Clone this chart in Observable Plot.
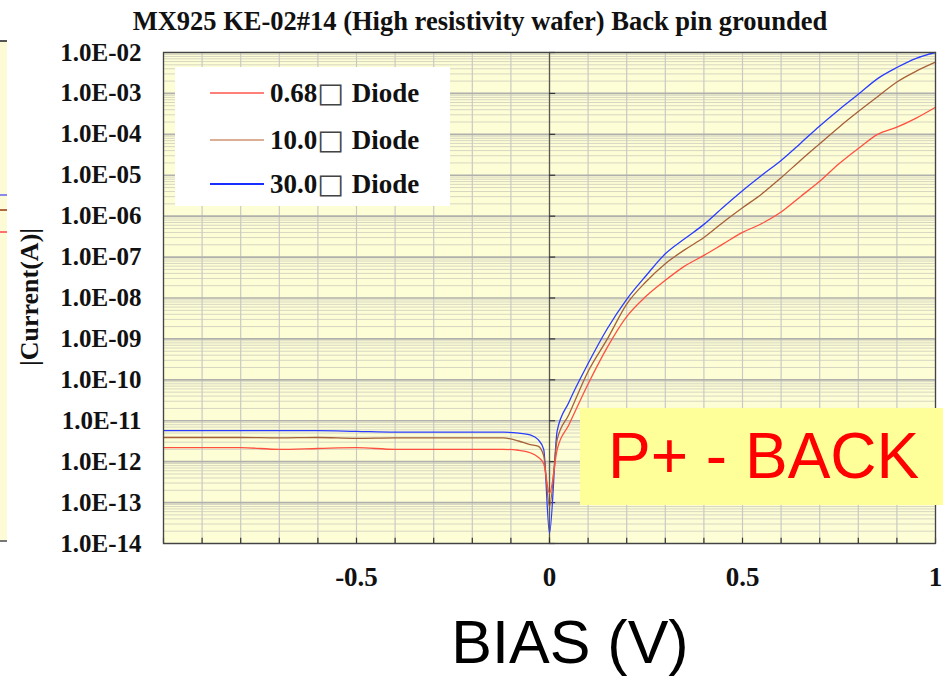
<!DOCTYPE html>
<html>
<head>
<meta charset="utf-8">
<script src="https://cdn.jsdelivr.net/npm/d3@7"></script>
<script src="https://cdn.jsdelivr.net/npm/@observablehq/plot@0.6"></script>
<style>
  html, body { margin: 0; padding: 0; background: #fff; }
  #wrap { position: relative; width: 943px; height: 690px; overflow: hidden; }
  #chart { position: absolute; left: 0; top: 0; }
  .serif { font-family: "Liberation Serif", "DejaVu Serif", serif; font-weight: bold; color: #111; }
  #title { position: absolute; left: 480px; top: 6px; transform: translateX(-50%); white-space: nowrap; font-size: 26.5px; }
  #ylabel { position: absolute; left: 30px; top: 297px; transform: translate(-50%, -50%) rotate(-90deg); white-space: nowrap; font-size: 26px; }
  #legend { position: absolute; left: 175px; top: 67px; width: 275px; height: 139px; background: #fff; }
  .lrow { position: absolute; left: 0; height: 30px; width: 275px; }
  .lline { position: absolute; left: 35px; width: 54px; top: 14px; height: 2px; }
  .ltext { position: absolute; left: 95px; top: 0; line-height: 30px; font-size: 27px; white-space: nowrap; }
  .ltext .sq { display: inline-block; font-family: "DejaVu Sans", sans-serif; font-weight: normal; font-size: 27px; color: #444; margin: 0 8px 0 1px; transform: scaleX(1.05); }
  #pback { position: absolute; left: 580px; top: 408px; width: 363px; height: 97px; background: #ffff99; }
  #pback span { position: absolute; left: 28px; top: 0; line-height: 97px; font-family: "Liberation Sans", Arial, sans-serif; font-size: 64px; color: #ff0000; white-space: nowrap; }
  #xtitle { position: absolute; left: 570px; top: 607px; transform: translateX(-50%); font-family: "Liberation Sans", Arial, sans-serif; font-size: 61px; color: #000; white-space: nowrap; }
  #strip { position: absolute; left: 0; top: 40px; width: 7px; height: 498px; background: #fdfbd6; border-top: 2px solid #555; border-bottom: 2px solid #777; }
  #strip div { position: absolute; left: 0; width: 7px; height: 2px; }
</style>
</head>
<body>
<div id="wrap">
  <div id="chart"></div>
  <div id="strip"></div>
  <div id="title" class="serif"></div>
  <div id="ylabel" class="serif"></div>
  <div id="legend"></div>
  <div id="pback"><span></span></div>
  <div id="xtitle"></div>
</div>
<script>
// ---- data ----
const titleText = "MX925 KE-02#14 (High resistivity wafer) Back pin grounded";
const yLabelText = "|Current(A)|";
const xTitleText = "BIAS (V)";
const boxText = "P+ - BACK";

const seriesNames = ["0.68\u25A1 Diode", "10.0\u25A1 Diode", "30.0\u25A1 Diode"];
const seriesColors = ["#ff5040", "#a86038", "#2a3cff"];
const legendColors = ["#ff8078", "#dcae94", "#1830ff"];

const bias = [-1, -0.9, -0.8, -0.7, -0.6, -0.5, -0.4, -0.3, -0.2, -0.12, -0.08, -0.05, -0.03, -0.015, 0,
  0.02, 0.05, 0.1, 0.15, 0.2, 0.25, 0.3, 0.35, 0.4, 0.45, 0.5, 0.55, 0.6, 0.65, 0.7, 0.75, 0.8, 0.85, 0.9, 0.95, 1.0];

const current068 = [2.2e-12, 2.2e-12, 2.2e-12, 2.0e-12, 2.1e-12, 2.2e-12, 2.0e-12, 2.0e-12, 2.0e-12, 2.0e-12, 1.9e-12, 1.65e-12, 1.3e-12, 8.9e-13, 1.7e-13,
  2.0e-12, 7.9e-12, 7.9e-11, 6.3e-10, 3.5e-9, 1.1e-8, 2.7e-8, 6.0e-8, 1.1e-7, 2.1e-7, 4.0e-7, 6.6e-7, 1.26e-6, 3.0e-6, 7.1e-6, 1.9e-5, 4.5e-5, 1.0e-4, 1.5e-4, 2.5e-4, 4.6e-4];

const current10 = [3.9e-12, 3.9e-12, 3.9e-12, 3.8e-12, 3.9e-12, 3.7e-12, 3.8e-12, 3.8e-12, 3.8e-12, 3.8e-12, 3.2e-12, 2.6e-12, 2.4e-12, 1.4e-12, 8.0e-14,
  3.5e-12, 1.4e-11, 1.6e-10, 1.0e-9, 7.1e-9, 2.5e-8, 6.9e-8, 1.5e-7, 3.0e-7, 7.1e-7, 1.6e-6, 3.5e-6, 8.7e-6, 2.3e-5, 5.9e-5, 1.5e-4, 3.6e-4, 8.3e-4, 1.9e-3, 3.5e-3, 5.8e-3];

const current30 = [5.75e-12, 5.75e-12, 5.75e-12, 5.75e-12, 5.75e-12, 5.5e-12, 5.25e-12, 5.25e-12, 5.25e-12, 5.25e-12, 5.0e-12, 4.5e-12, 3.5e-12, 2.0e-12, 1.8e-14,
  5.75e-12, 2.8e-11, 2.5e-10, 1.8e-9, 9.3e-9, 3.5e-8, 1.2e-7, 2.8e-7, 6.3e-7, 1.66e-6, 4.2e-6, 1.0e-5, 2.3e-5, 6.0e-5, 1.6e-4, 4.0e-4, 9.5e-4, 2.3e-3, 4.3e-3, 7.2e-3, 1.0e-2];

const yTicks = [1e-2, 1e-3, 1e-4, 1e-5, 1e-6, 1e-7, 1e-8, 1e-9, 1e-10, 1e-11, 1e-12, 1e-13, 1e-14];
const yTickLabels = ["1.0E-02", "1.0E-03", "1.0E-04", "1.0E-05", "1.0E-06", "1.0E-07", "1.0E-08", "1.0E-09", "1.0E-10", "1.0E-11", "1.0E-12", "1.0E-13", "1.0E-14"];
const xTicks = [-0.5, 0, 0.5, 1];
const xTickLabels = ["-0.5", "0", "0.5", "1"];
const xGrid = [-1, -0.9, -0.8, -0.7, -0.6, -0.5, -0.4, -0.3, -0.2, -0.1, 0, 0.1, 0.2, 0.3, 0.4, 0.5, 0.6, 0.7, 0.8, 0.9, 1];
const minorMultipliers = [2, 3, 4, 5, 6, 7, 8, 9];

// ---- build ----
const allSeries = [current068, current10, current30];
const rows = [];
// draw blue first, red last
[2, 1, 0].forEach(k => bias.forEach((b, i) => rows.push({bias: b, current: allSeries[k][i], name: seriesNames[k]})));
const minorGrid = yTicks.slice(1).flatMap(t => minorMultipliers.map(m => t * m));
const yLabelRows = yTicks.map((t, i) => ({v: t, label: yTickLabels[i]}));
const xLabelRows = xTicks.map((t, i) => ({v: t, label: xTickLabels[i]}));

const chart = Plot.plot({
  width: 943,
  height: 690,
  marginTop: 52,
  marginBottom: 147,
  marginLeft: 163,
  marginRight: 8,
  style: {background: "transparent", overflow: "visible"},
  x: {domain: [-1, 1], axis: null},
  y: {type: "log", domain: [1e-14, 1e-2], axis: null},
  color: {domain: seriesNames, range: seriesColors},
  marks: [
    Plot.frame({fill: "#fefed6", stroke: null}),
    Plot.ruleY(minorGrid, {stroke: "#d6d6c2", strokeWidth: 1}),
    Plot.ruleX(xGrid, {stroke: "#c9c9c4", strokeWidth: 1.2}),
    Plot.ruleY(yTicks, {stroke: "#b0b0ac", strokeWidth: 1.6}),
    Plot.ruleX([0], {stroke: "#5a5a50", strokeWidth: 1.3}),
    Plot.ruleY(yTicks, {x1: 0, x2: 0.016, stroke: "#333", strokeWidth: 1.2}),
    Plot.ruleX(xGrid, {y1: 1e-14, y2: 1.35e-14, stroke: "#333", strokeWidth: 1.2}),
    Plot.line(rows, {x: "bias", y: "current", z: "name", stroke: "name", strokeWidth: 1.3, curve: "monotone-x"}),
    Plot.frame({stroke: "#444", strokeWidth: 1.3}),
    Plot.text(yLabelRows, {
      y: "v",
      text: "label",
      frameAnchor: "left",
      dx: -22,
      textAnchor: "end",
      fontSize: 25,
      fontWeight: "bold",
      fontFamily: "Liberation Serif, serif",
      fill: "#111"
    }),
    Plot.text(xLabelRows, {
      x: "v",
      text: "label",
      frameAnchor: "bottom",
      dy: 42,
      fontSize: 27,
      fontWeight: "bold",
      fontFamily: "Liberation Serif, serif",
      fill: "#111"
    })
  ]
});
document.getElementById("chart").appendChild(chart);

document.getElementById("title").textContent = titleText;
document.getElementById("ylabel").textContent = yLabelText;
document.getElementById("xtitle").textContent = xTitleText;
document.querySelector("#pback span").textContent = boxText;

// left-edge strip (fragment of a neighbouring chart)
const strip = document.getElementById("strip");
[[152, "#8888ee"], [167, "#b06a40"], [189, "#ff7070"]].forEach(([t, c]) => {
  const d = document.createElement("div");
  d.style.top = t + "px"; d.style.background = c;
  strip.appendChild(d);
});

const legend = document.getElementById("legend");
const rowTops = [11, 58, 102];
seriesNames.forEach((n, i) => {
  const r = document.createElement("div");
  r.className = "lrow";
  r.style.top = rowTops[i] + "px";
  const l = document.createElement("div");
  l.className = "lline";
  l.style.background = legendColors[i];
  const t = document.createElement("div");
  t.className = "ltext serif";
  const parts = n.split("\u25A1");
  t.appendChild(document.createTextNode(parts[0]));
  const sq = document.createElement("span");
  sq.className = "sq";
  sq.textContent = "\u25A1";
  t.appendChild(sq);
  t.appendChild(document.createTextNode(parts[1].trim()));
  r.appendChild(l); r.appendChild(t);
  legend.appendChild(r);
});
</script>
</body>
</html>
